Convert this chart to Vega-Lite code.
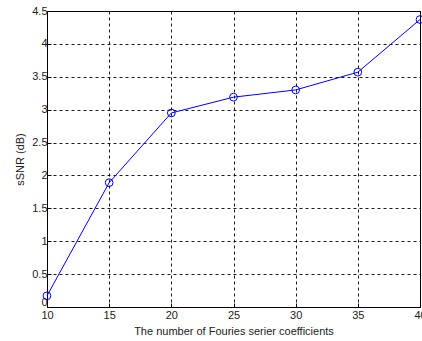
{
  "$schema": "https://vega.github.io/schema/vega-lite/v6.json",
  "width": 373,
  "height": 296,
  "autosize": {"type": "none"},
  "padding": {"left": 47, "top": 11, "right": 2, "bottom": 34},
  "background": "white",
  "config": {
    "view": {"stroke": "black", "strokeWidth": 1},
    "font": "Liberation Sans",
    "axis": {
      "domainColor": "black",
      "gridColor": "black",
      "gridDash": [3, 3],
      "gridOpacity": 0.9,
      "gridWidth": 1,
      "labelColor": "#222222",
      "labelFontSize": 11,
      "titleFontSize": 11,
      "titleFontWeight": "normal",
      "titleColor": "#222222",
      "tickColor": "black",
      "tickSize": -4
    }
  },
  "data": {
    "values": [
      {"n": 10, "ssnr": 0.17},
      {"n": 15, "ssnr": 1.89},
      {"n": 20, "ssnr": 2.95},
      {"n": 25, "ssnr": 3.19},
      {"n": 30, "ssnr": 3.30},
      {"n": 35, "ssnr": 3.57},
      {"n": 40, "ssnr": 4.37}
    ]
  },
  "encoding": {
    "x": {
      "field": "n",
      "type": "quantitative",
      "scale": {"domain": [10, 40], "nice": false, "zero": false},
      "axis": {
        "values": [10, 15, 20, 25, 30, 35, 40],
        "title": "The number of Fouries serier coefficients",
        "labelPadding": 6,
        "titlePadding": 5,
        "labelFlush": false
      }
    },
    "y": {
      "field": "ssnr",
      "type": "quantitative",
      "scale": {"domain": [0, 4.5], "nice": false},
      "axis": {
        "values": [0, 0.5, 1, 1.5, 2, 2.5, 3, 3.5, 4, 4.5],
        "format": "~g",
        "title": "sSNR (dB)",
        "labelPadding": 4,
        "labelOffset": {"condition": {"test": "datum.value == 0", "value": -5}, "value": 0},
        "titlePadding": 6
      }
    }
  },
  "layer": [
    {"mark": {"type": "line", "color": "#0000ff", "strokeWidth": 1}},
    {"mark": {"type": "point", "shape": "circle", "filled": false, "color": "#0000ff", "size": 60, "strokeWidth": 1, "opacity": 1}}
  ]
}
